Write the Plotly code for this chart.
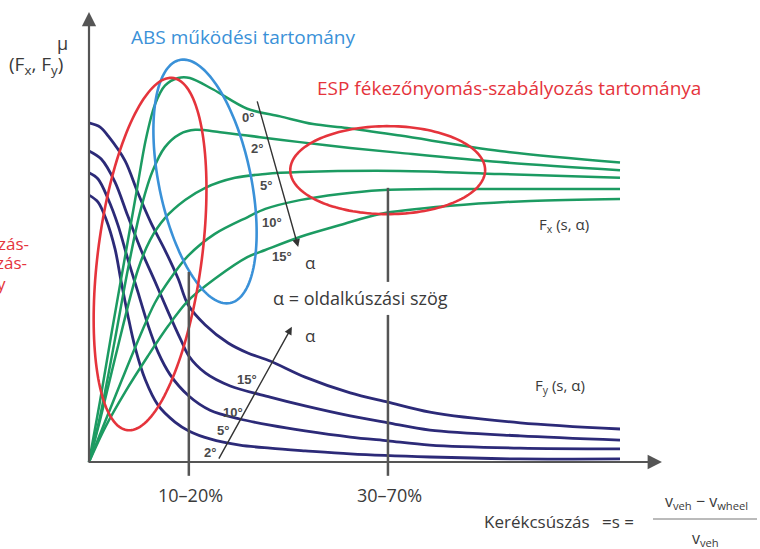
import numpy as np
import plotly.graph_objects as go

# ---------------- data: slip s (%) and friction coefficient mu ----------------
fx_labels = ["0°", "2°", "5°", "10°", "15°"]
fx_0_s = [0, 2.1, 4.3, 6.6, 8.9, 10.7, 12.4, 14.3, 16.8, 19.0, 23.4, 29.8, 36.0, 42.2, 48.6, 58.6, 77.4, 100]
fx_0_mu = [0, 0.16, 0.34, 0.52, 0.70, 0.84, 0.93, 0.98, 1.00, 1.00, 0.97, 0.92, 0.90, 0.88, 0.87, 0.85, 0.81, 0.78]
fx_2_s = [0, 2.1, 4.9, 7.3, 9.6, 11.9, 14.3, 17.1, 20.0, 24.7, 32.2, 39.7, 49.2, 58.6, 77.4, 100]
fx_2_mu = [0, 0.12, 0.32, 0.50, 0.65, 0.755, 0.82, 0.854, 0.865, 0.859, 0.846, 0.833, 0.818, 0.805, 0.781, 0.760]
fx_5_s = [0, 2.1, 4.9, 9.2, 11.5, 14.3, 18.1, 21.9, 27.5, 33.2, 39.7, 58.6, 77.4, 100]
fx_5_mu = [0, 0.11, 0.27, 0.50, 0.578, 0.635, 0.682, 0.714, 0.740, 0.750, 0.755, 0.758, 0.750, 0.740]
fx_10_s = [0, 3.0, 6.2, 9.6, 12.4, 15.3, 18.6, 23.7, 29.9, 33.2, 39.7, 47.3, 54.8, 68.0, 100]
fx_10_mu = [0, 0.104, 0.214, 0.328, 0.414, 0.477, 0.536, 0.594, 0.638, 0.659, 0.682, 0.698, 0.708, 0.711, 0.711]
fx_15_s = [0, 3.0, 6.8, 11.1, 14.9, 18.6, 23.7, 29.9, 33.2, 39.7, 47.3, 54.8, 68.0, 83.1, 100]
fx_15_mu = [0, 0.089, 0.182, 0.276, 0.354, 0.419, 0.477, 0.534, 0.552, 0.586, 0.617, 0.646, 0.667, 0.680, 0.685]

fy_labels = ["2°", "5°", "10°", "15°"]
fy_15_s = [0, 2.1, 3.6, 6.8, 9.2, 11.7, 14.3, 16.8, 18.6, 21.9, 26.2, 29.9, 34.1, 40.7, 49.2, 56.3, 64.2, 81.2, 100]
fy_15_mu = [0.883, 0.872, 0.849, 0.784, 0.701, 0.622, 0.552, 0.477, 0.411, 0.357, 0.310, 0.284, 0.263, 0.221, 0.180, 0.156, 0.130, 0.102, 0.086]
fy_10_s = [0, 2.3, 4.9, 7.3, 9.8, 12.4, 14.9, 17.3, 18.8, 21.9, 26.6, 34.1, 40.7, 49.2, 56.3, 64.2, 81.2, 100]
fy_10_mu = [0.810, 0.789, 0.729, 0.641, 0.552, 0.471, 0.391, 0.318, 0.276, 0.232, 0.198, 0.169, 0.146, 0.120, 0.102, 0.083, 0.068, 0.057]
fy_5_s = [0, 1.7, 3.6, 5.5, 7.3, 9.2, 11.1, 13.0, 15.3, 18.8, 22.8, 28.4, 34.1, 40.7, 49.2, 56.3, 64.2, 81.2, 100]
fy_5_mu = [0.753, 0.737, 0.685, 0.615, 0.529, 0.443, 0.357, 0.286, 0.227, 0.172, 0.135, 0.112, 0.096, 0.081, 0.065, 0.055, 0.044, 0.036, 0.034]
fy_2_s = [0, 1.7, 3.2, 4.9, 6.0, 7.3, 8.7, 10.6, 13.0, 16.2, 18.8, 22.8, 28.4, 34.1, 40.7, 49.2, 64.2, 81.2, 100]
fy_2_mu = [0.695, 0.677, 0.633, 0.555, 0.474, 0.383, 0.297, 0.214, 0.148, 0.104, 0.081, 0.060, 0.044, 0.036, 0.029, 0.021, 0.013, 0.008, 0.008]

range_labels = ["10–20%", "30–70%"]
range_s = [18.8, 56.3]

# ---------------- layout constants ----------------
W, H = 760, 549
PX_PER_S = 5.31          # horizontal pixels per slip unit
PX_PER_MU = 384.0        # vertical pixels per mu unit
ORIGIN_PX = (89, 462)
XMIN = -ORIGIN_PX[0] / PX_PER_S
XMAX = (W - ORIGIN_PX[0]) / PX_PER_S
YMAX = ORIGIN_PX[1] / PX_PER_MU
YMIN = -(H - ORIGIN_PX[1]) / PX_PER_MU

GREEN = "#1c9b62"
PURPLE = "#2c2a78"
BLUE = "#3a91d8"
RED = "#e5343c"
AXIS = "#555555"
TXT = "#3a3a3a"
FONT = "Open Sans"


def P(px, py):
    return px / W, 1 - py / H


fig = go.Figure()

fx_series = [(fx_0_s, fx_0_mu), (fx_2_s, fx_2_mu), (fx_5_s, fx_5_mu), (fx_10_s, fx_10_mu), (fx_15_s, fx_15_mu)]
fy_series = [(fy_2_s, fy_2_mu), (fy_5_s, fy_5_mu), (fy_10_s, fy_10_mu), (fy_15_s, fy_15_mu)]

for (s, mu), lab in zip(fy_series, fy_labels):
    fig.add_trace(go.Scatter(x=s, y=mu, mode="lines", name="Fy " + lab,
                             line=dict(color=PURPLE, width=2.8, shape="spline", smoothing=0.9),
                             hoverinfo="skip"))
for (s, mu), lab in zip(fx_series, fx_labels):
    fig.add_trace(go.Scatter(x=s, y=mu, mode="lines", name="Fx " + lab,
                             line=dict(color=GREEN, width=2.5, shape="spline", smoothing=0.9),
                             hoverinfo="skip"))


def ellipse_path(p1, p2, half_w, n=160):
    x1, y1 = p1[0] * PX_PER_S, p1[1] * PX_PER_MU
    x2, y2 = p2[0] * PX_PER_S, p2[1] * PX_PER_MU
    cx, cy = (x1 + x2) / 2, (y1 + y2) / 2
    a = np.hypot(x2 - x1, y2 - y1) / 2
    ang = np.arctan2(y2 - y1, x2 - x1)
    t = np.linspace(0, 2 * np.pi, n)
    ex = cx + a * np.cos(t) * np.cos(ang) - half_w * np.sin(t) * np.sin(ang)
    ey = cy + a * np.cos(t) * np.sin(ang) + half_w * np.sin(t) * np.cos(ang)
    pts = [f"{x / PX_PER_S:.3f},{y / PX_PER_MU:.4f}" for x, y in zip(ex, ey)]
    return "M " + " L ".join(pts) + " Z"


ellipses = [
    ((17.1, 1.047), (26.6, 0.414), 46, BLUE),
    ((15.8, 1.000), (7.2, 0.083), 52, RED),
    ((37.9, 0.760), (74.6, 0.760), 44, RED),
]
for p1, p2, hw, col in ellipses:
    fig.add_shape(type="path", path=ellipse_path(p1, p2, hw), xref="x", yref="y",
                  line=dict(color=col, width=2.6))

# range marker lines
fig.add_shape(type="line", x0=range_s[0], x1=range_s[0], y0=0.495, y1=-0.036,
              line=dict(color=AXIS, width=2.5))
fig.add_shape(type="line", x0=range_s[1], x1=range_s[1], y0=0.714, y1=0.469,
              line=dict(color=AXIS, width=2.5))
fig.add_shape(type="line", x0=range_s[1], x1=range_s[1], y0=0.383, y1=-0.036,
              line=dict(color=AXIS, width=2.5))


def arrow(x0, y0, x1, y1, color, width, size):
    fig.add_annotation(x=x1, y=y1, ax=x0, ay=y0, xref="x", yref="y", axref="x", ayref="y",
                       text="", showarrow=True, arrowhead=2, arrowsize=size,
                       arrowwidth=width, arrowcolor=color, standoff=0, startstandoff=0)


# axes
arrow(0, -0.005, 0, 1.172, AXIS, 2.2, 1.3)
arrow(-0.3, 0, 107.9, 0, AXIS, 2.2, 1.3)
# alpha arrows
arrow(31.6, 0.943, 39.4, 0.560, "#333333", 1.4, 1.1)
arrow(24.3, 0.005, 38.2, 0.352, "#333333", 1.4, 1.1)


def text(t, px, py, size=16, color=TXT, xanchor="center", family=FONT):
    x, y = P(px, py)
    fig.add_annotation(x=x, y=y, xref="paper", yref="paper", text=t, showarrow=False,
                       xanchor=xanchor, yanchor="middle",
                       font=dict(family=family, size=size, color=color))


text("ABS működési tartomány", 243, 37, 19, BLUE)
text("ESP fékezőnyomás-szabályozás tartománya", 509, 88, 19, RED)
text("μ", 63, 43, 18)
text("(F<sub>x</sub>, F<sub>y</sub>)", 7, 65, 19, xanchor="left")
text("F<sub>x</sub> (s, α)", 537, 225, 15, xanchor="left")
text("F<sub>y</sub> (s, α)", 533, 386, 15, xanchor="left")
text("α", 310, 263, 17)
text("α", 310, 335, 17)
text("α = oldalkúszási szög", 360, 298, 18)
for lab, s in zip(range_labels, range_s):
    text(lab, ORIGIN_PX[0] + s * PX_PER_S + 2, 495, 18)
text("Kerékcsúszás", 482, 521, 17, xanchor="left")
text("=s =", 600, 521, 17, xanchor="left")
text("v<sub>veh</sub> − v<sub>wheel</sub>", 706, 501, 16)
text("v<sub>veh</sub>", 705, 538, 16)
fig.add_shape(type="line", xref="paper", yref="paper", x0=653 / W, x1=757 / W,
              y0=1 - 519 / H, y1=1 - 519 / H, line=dict(color="#777777", width=1))

# clipped red side note at the left border
text("zás-", 31, 243, 17, RED, xanchor="right")
text("zás-", 29, 263, 17, RED, xanchor="right")
text("y", 8, 283, 17, RED, xanchor="right")

# angle labels
for lab, (px, py) in zip(fx_labels, [(248, 118), (257, 148), (266, 185), (272, 222), (282, 257)]):
    text("<b>" + lab + "</b>", px, py, 13, "#4a4a4a", family="Liberation Sans")
for lab, (px, py) in zip(fy_labels, [(210, 452), (223, 431), (233, 412), (247, 379)]):
    text("<b>" + lab + "</b>", px, py, 13, "#4a4a4a", family="Liberation Sans")

fig.update_layout(
    width=W, height=H, margin=dict(l=0, r=0, t=0, b=0),
    paper_bgcolor="white", plot_bgcolor="white", showlegend=False,
    xaxis=dict(range=[XMIN, XMAX], visible=False, fixedrange=True),
    yaxis=dict(range=[YMIN, YMAX], visible=False, fixedrange=True),
)

fig.write_html("out.html", config={"displayModeBar": False},
               post_script="document.body.style.margin='0px';")
